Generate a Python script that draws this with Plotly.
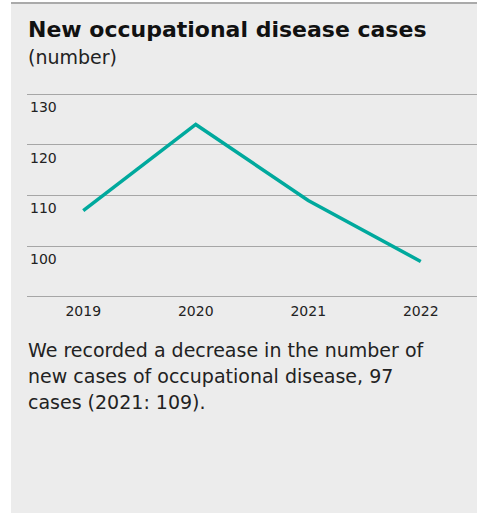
import plotly.graph_objects as go

# Occupational disease cases per year
years = ["2019", "2020", "2021", "2022"]
cases = [107, 124, 109, 97]
y_ticks = [100, 110, 120, 130]

title_text = "New occupational disease cases"
unit_text = "(number)"
note_lines = [
    "We recorded a decrease in the number of",
    "new cases of occupational disease, 97",
    "cases (2021: 109).",
]

W, H = 477, 513
ML, MR, MT, MB = 27, 0, 94, 216
PW, PH = W - ML - MR, H - MT - MB
FONT = "DejaVu Sans, sans-serif"
GRID = "#a6a6a6"


def px_x(x):
    return (x - ML) / PW


def px_y(y):
    return (H - MB - y) / PH


fig = go.Figure()
fig.add_trace(go.Scatter(
    x=years, y=cases, mode="lines",
    line=dict(color="#00a99d", width=3.5),
    hoverinfo="x+y", showlegend=False,
))

# grey card behind the chart
fig.add_shape(type="rect", xref="paper", yref="paper",
              x0=px_x(11), x1=px_x(W + 2), y0=px_y(H + 2), y1=px_y(3),
              fillcolor="#ececec", line_width=0, layer="below")
fig.add_shape(type="line", xref="paper", yref="paper",
              x0=px_x(11), x1=px_x(W + 2), y0=px_y(3), y1=px_y(3),
              line=dict(color="#aaaaaa", width=2), layer="below")
# top and bottom grid lines sit on the plot edges; nudge them half a pixel
# inward so they render crisp like the inner ones
for yy in (MT + 0.5, H - MB - 0.5):
    fig.add_shape(type="line", xref="paper", yref="paper",
                  x0=0, x1=1, y0=px_y(yy), y1=px_y(yy),
                  line=dict(color=GRID, width=1), layer="below")

annotations = [
    dict(text="<b>" + title_text + "</b>", x=px_x(26), y=px_y(29),
         font=dict(size=22, color="#111111", family=FONT)),
    dict(text=unit_text, x=px_x(26), y=px_y(57),
         font=dict(size=19, color="#222222", family=FONT)),
]
for i, line in enumerate(note_lines):
    annotations.append(dict(text=line, x=px_x(26), y=px_y(350 + 26 * i),
                            font=dict(size=19, color="#222222", family=FONT)))
for a in annotations:
    a.update(xref="paper", yref="paper", xanchor="left", yanchor="middle",
             showarrow=False)

fig.update_layout(
    width=W, height=H,
    margin=dict(l=ML, r=MR, t=MT, b=MB, pad=0),
    paper_bgcolor="white", plot_bgcolor="rgba(0,0,0,0)",
    annotations=annotations,
    xaxis=dict(
        range=[-0.5, 3.5], showgrid=False, zeroline=False,
        showline=False, ticks="", fixedrange=True,
        tickfont=dict(size=14, color="#222222", family=FONT),
        ticklabelstandoff=4,
    ),
    yaxis=dict(
        range=[90, 130], tickvals=y_ticks,
        showgrid=True, gridcolor=GRID, gridwidth=1,
        zeroline=False, showline=False, ticks="",
        ticklabelposition="inside", ticklabelshift=13,
        tickfont=dict(size=14, color="#222222", family=FONT),
        fixedrange=True,
    ),
)

fig.write_html("out.html")
